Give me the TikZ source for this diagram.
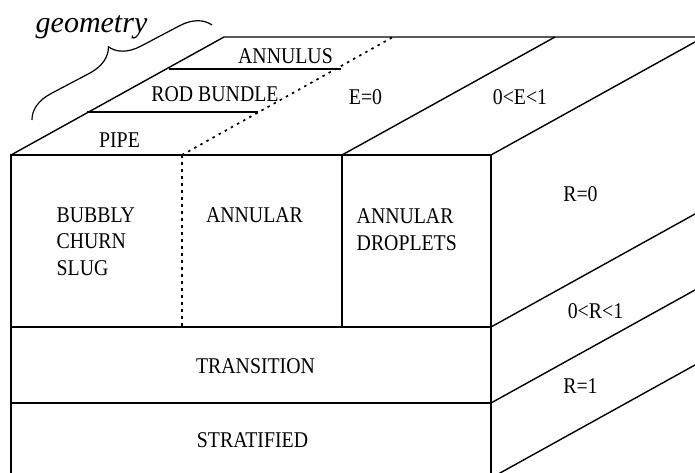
\documentclass[tikz,border=0pt]{standalone}
\usepackage{fontspec}
\setmainfont{Liberation Serif}[FakeStretch=0.88]
\newfontfamily\geofont{Liberation Serif}
\usetikzlibrary{decorations.pathreplacing}
\begin{document}
\begin{tikzpicture}[x=1pt,y=-1pt,line width=1.4pt,
  lbl/.style={inner sep=0pt,font=\fontsize{22.5}{26.5}\selectfont},
  dotline/.style={line width=1.7pt,dash pattern=on 2.5pt off 4.5pt},
  bracestyle/.style={line width=1.2pt,decorate,decoration={brace,amplitude=29pt}}]
\useasboundingbox (0,0) rectangle (695,472);
\clip (0,0) rectangle (695,472);
% corners
\coordinate (ftl) at (11,155);
\coordinate (ftr) at (491,155);
\coordinate (fbr) at (491,478);
\coordinate (btl) at (224,37);
\coordinate (bbr) at (720,37);
\coordinate (dA) at (182,155);
\coordinate (dB) at (393,37);
\coordinate (dC) at (182,327);
\coordinate (sA) at (342,155);
\coordinate (sB) at (555,37);
\coordinate (sC) at (342,327);
\coordinate (m1) at (11,327);
\coordinate (m1r) at (491,327);
\coordinate (m2) at (11,403);
\coordinate (m2r) at (491,403);
\coordinate (r1a) at (87,112);
\coordinate (r1b) at (258,112);
\coordinate (r2a) at (169,69);
\coordinate (r2b) at (341,69);
\coordinate (br1) at (32,120);
\coordinate (br2) at (212,25);
% front face
\draw (ftl) rectangle (fbr);
\draw (m1) -- (m1r);
\draw (m2) -- (m2r);
\draw (sA) -- (sC);
\draw[dotline] (dA) -- (dC);
% top face
\draw (ftl) -- (btl) -- (bbr);
\draw (sA) -- (sB);
\draw (ftr) -- ++(213,-118);
\draw[dotline] (dA) -- (dB);
\draw (r1a) -- (r1b);
\draw (r2a) -- (r2b);
% right face
\draw (m1r) -- ++(213,-118);
\draw (m2r) -- ++(213,-118);
\draw (fbr) -- ++(213,-118);
% brace
\draw[bracestyle] (br1) -- (br2);
\node[anchor=base,inner sep=0pt,font=\geofont\itshape\fontsize{30}{30}\selectfont] (geo) at (91.5,32) {geometry};
% labels
\node[lbl,anchor=base] (ann) at (285.5,63) {ANNULUS};
\node[lbl,anchor=base] (rod) at (215,101) {ROD BUNDLE};
\node[lbl,anchor=base] (pipe) at (119.5,147) {PIPE};
\node[lbl,anchor=base] (e0) at (365.5,104) {E=0};
\node[lbl,anchor=base] (e01) at (520,104) {0<E<1};
\node[lbl,anchor=north west,align=left] (bub) at (56,207) {BUBBLY\\CHURN\\SLUG};
\node[lbl,anchor=base] (annular) at (254.5,222) {ANNULAR};
\node[lbl,anchor=north west,align=left] (drop) at (356,208) {ANNULAR\\DROPLETS};
\node[lbl,anchor=base] (r0) at (580.5,201) {R=0};
\node[lbl,anchor=base] (r01) at (595.5,318) {0<R<1};
\node[lbl,anchor=base] (r1) at (580.5,393) {R=1};
\node[lbl,anchor=base] (trans) at (255.5,373) {TRANSITION};
\node[lbl,anchor=base] (strat) at (252.5,447) {STRATIFIED};
\end{tikzpicture}
\end{document}
